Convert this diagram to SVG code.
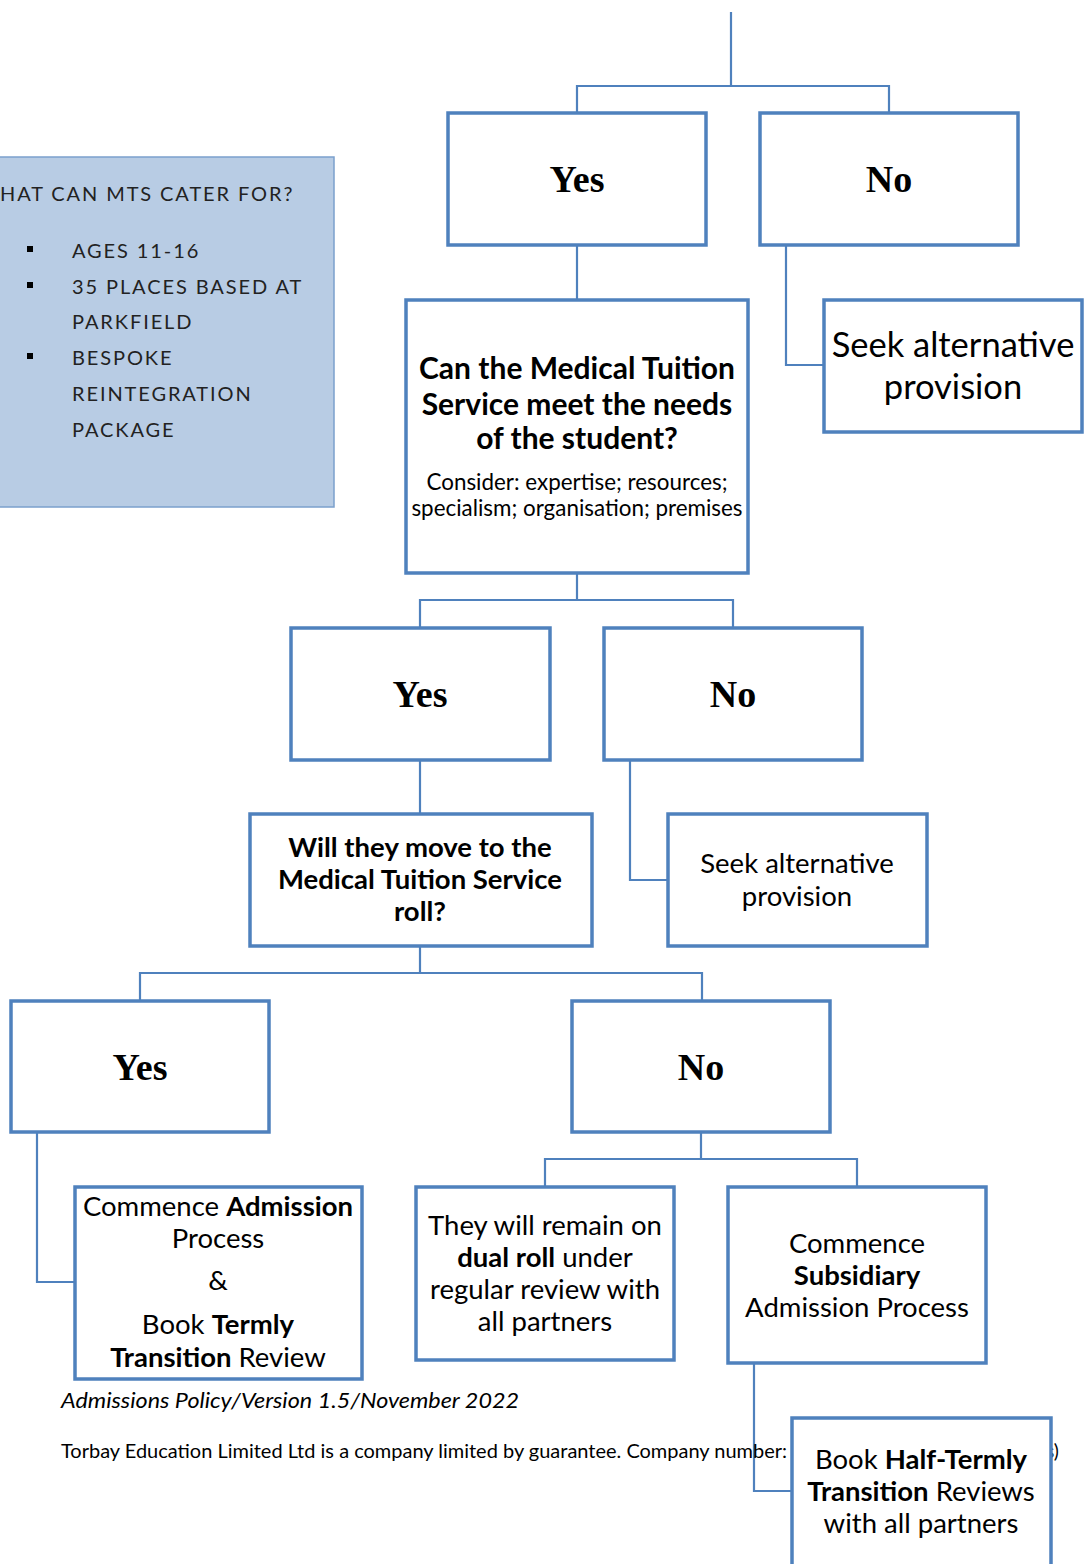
<svg xmlns="http://www.w3.org/2000/svg" width="1084" height="1564" viewBox="0 0 1084 1564">
<style>
.box{fill:#fff;stroke:#4f81bd;stroke-width:3.5}
.ln{fill:none;stroke:#4f81bd;stroke-width:2.2}
.yn{font-family:"Liberation Serif","DejaVu Serif",serif;font-weight:bold;font-size:38px;fill:#000;text-anchor:middle}
.t{font-family:Lato,"Open Sans",sans-serif;fill:#000;text-anchor:middle}
.b{font-weight:bold}
.panel{font-family:Lato,"Open Sans",sans-serif;font-size:20px;letter-spacing:1.9px;fill:#222}
</style>
<rect width="1084" height="1564" fill="#fff"/>
<g id="panel">
<rect x="-5" y="157" width="339" height="350" fill="#b8cce4" stroke="#7ba0cd" stroke-width="1.5"/>
<text class="panel" x="0" y="201">HAT CAN MTS CATER FOR?</text>
<rect x="27" y="246" width="6" height="6" fill="#000"/>
<rect x="27" y="282" width="6" height="6" fill="#000"/>
<rect x="27" y="353" width="6" height="6" fill="#000"/>
<text class="panel" x="72" y="258">AGES 11-16</text>
<text class="panel" x="72" y="294">35 PLACES BASED AT</text>
<text class="panel" x="72" y="329">PARKFIELD</text>
<text class="panel" x="72" y="365">BESPOKE</text>
<text class="panel" x="72" y="401">REINTEGRATION</text>
<text class="panel" x="72" y="437">PACKAGE</text>
</g>
<g id="connectors">
<path class="ln" d="M731 12V86M577 113V86H889V113"/>
<path class="ln" d="M577 245V300"/>
<path class="ln" d="M786 245V365H824"/>
<path class="ln" d="M577 573V600M420 628V600H733V628"/>
<path class="ln" d="M420 760V814"/>
<path class="ln" d="M630 760V880H668"/>
<path class="ln" d="M420 946V973M140 1001V973H702V1001"/>
<path class="ln" d="M37 1132V1282H75"/>
<path class="ln" d="M701 1132V1159M545 1187V1159H857V1187"/>
<path class="ln" d="M754 1363V1491H792"/>
</g>
<g id="footer">
<text x="61" y="1408" font-family="Lato,'Open Sans',sans-serif" font-style="italic" font-size="22" fill="#000" textLength="458" lengthAdjust="spacingAndGlyphs">Admissions  Policy/Version 1.5/November 2022</text>
<text x="61" y="1458" font-family="Lato,'Open Sans',sans-serif" font-size="19" fill="#000" textLength="726" lengthAdjust="spacingAndGlyphs">Torbay Education Limited Ltd is a company limited by guarantee. Company number:</text>
<text x="1046" y="1458" font-family="Lato,'Open Sans',sans-serif" font-size="19" fill="#000">s)</text>
</g>
<g id="yes1"><rect class="box" x="448" y="113" width="258" height="132"/><text class="yn" x="577" y="192">Yes</text></g>
<g id="no1"><rect class="box" x="760" y="113" width="258" height="132"/><text class="yn" x="889" y="192">No</text></g>
<g id="seek1"><rect class="box" x="824" y="300" width="258" height="132"/>
<text class="t" font-size="34.5" x="953" y="357">Seek alternative</text>
<text class="t" font-size="34.5" x="953" y="399">provision</text></g>
<g id="q1"><rect class="box" x="406" y="300" width="342" height="273"/>
<text class="t b" font-size="30" x="577" y="379">Can the Medical Tuition</text>
<text class="t b" font-size="30" x="577" y="415">Service meet the needs</text>
<text class="t b" font-size="30" x="577" y="449">of the student?</text>
<text class="t" font-size="22.4" x="577" y="490">Consider: expertise; resources;</text>
<text class="t" font-size="22.4" x="577" y="516">specialism; organisation; premises</text></g>
<g id="yes2"><rect class="box" x="291" y="628" width="259" height="132"/><text class="yn" x="420" y="707">Yes</text></g>
<g id="no2"><rect class="box" x="604" y="628" width="258" height="132"/><text class="yn" x="733" y="707">No</text></g>
<g id="q2"><rect class="box" x="250" y="814" width="342" height="132"/>
<text class="t b" font-size="27.5" x="420" y="857">Will they move to the</text>
<text class="t b" font-size="27.5" x="420" y="889">Medical Tuition Service</text>
<text class="t b" font-size="27.5" x="420" y="921">roll?</text></g>
<g id="seek2"><rect class="box" x="668" y="814" width="259" height="132"/>
<text class="t" font-size="27.5" x="797" y="873">Seek alternative</text>
<text class="t" font-size="27.5" x="797" y="906">provision</text></g>
<g id="yes3"><rect class="box" x="11" y="1001" width="258" height="131"/><text class="yn" x="140" y="1080">Yes</text></g>
<g id="no3"><rect class="box" x="572" y="1001" width="258" height="131"/><text class="yn" x="701" y="1080">No</text></g>
<g id="boxA"><rect class="box" x="75" y="1187" width="287" height="192"/>
<text class="t" font-size="27.5" x="218" y="1216">Commence <tspan class="b">Admission</tspan></text>
<text class="t" font-size="27.5" x="218" y="1248">Process</text>
<text class="t" font-size="27.5" x="218" y="1290">&amp;</text>
<text class="t" font-size="27.5" x="218" y="1334">Book <tspan class="b">Termly</tspan></text>
<text class="t" font-size="27.5" x="218" y="1367"><tspan class="b">Transition</tspan> Review</text></g>
<g id="boxB"><rect class="box" x="416" y="1187" width="258" height="173"/>
<text class="t" font-size="27.5" x="545" y="1235">They will remain on</text>
<text class="t" font-size="27.5" x="545" y="1267"><tspan class="b">dual roll</tspan> under</text>
<text class="t" font-size="27.5" x="545" y="1299">regular review with</text>
<text class="t" font-size="27.5" x="545" y="1331">all partners</text></g>
<g id="boxC"><rect class="box" x="728" y="1187" width="258" height="176"/>
<text class="t" font-size="27.5" x="857" y="1253">Commence</text>
<text class="t b" font-size="27.5" x="857" y="1285">Subsidiary</text>
<text class="t" font-size="27.5" x="857" y="1317">Admission Process</text></g>
<g id="boxD"><rect class="box" x="792" y="1418" width="259" height="160"/>
<text class="t" font-size="27.5" x="921" y="1469">Book <tspan class="b">Half-Termly</tspan></text>
<text class="t" font-size="27.5" x="921" y="1501"><tspan class="b">Transition</tspan> Reviews</text>
<text class="t" font-size="27.5" x="921" y="1533">with all partners</text></g>
</svg>
